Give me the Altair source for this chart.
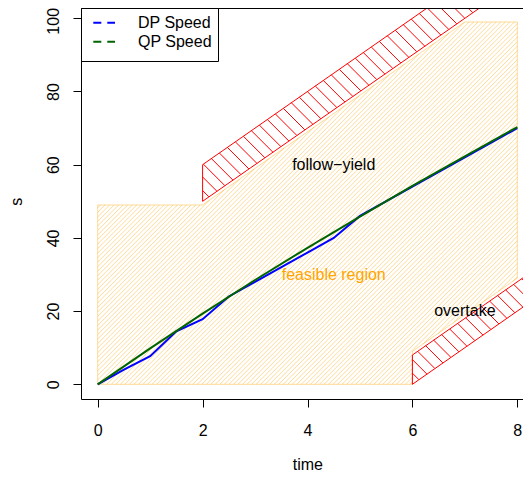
import altair as alt
import numpy as np
import pandas as pd

FONT = "Liberation Sans"

# ---------------- data ----------------
dp_time = [0, 0.5, 1, 1.5, 2, 2.5, 3, 4, 4.5, 5, 6, 7, 8]
dp_s = [0, 4, 7.7, 14.5, 17.8, 24, 28, 36, 40, 46, 54, 62, 70]

qp_time = [0, 1, 2, 3, 4, 5, 6, 7, 8]
qp_s = [0, 9.8, 19.3, 28.5, 37.3, 45.8, 54.2, 62.3, 70.3]

feas_t = [0, 0, 2, 7, 8, 8, 6, 6]
feas_s = [0, 49, 49, 99, 99, 29, 9, 0]

follow_t = [2, 2, 8, 8]
follow_s = [50, 60, 120, 110]

overtake_t = [6, 6, 10, 10]
overtake_s = [0, 8, 48, 40]

ann_t = [4.5, 4.5, 7.0]
ann_s = [60, 30, 20]
ann_text = ["follow\u2212yield", "feasible region", "overtake"]
ann_color = ["black", "orange", "black"]

legend_names = ["DP Speed", "QP Speed"]
legend_colors = ["blue", "darkgreen"]

x_ticks = [0, 2, 4, 6, 8]
y_ticks = [0, 20, 40, 60, 80, 100]

# ---------------- layout ----------------
W, H = 442, 391
KX = 52.45          # px per time unit
KY = 3.66           # px per s unit
XMIN = -16.7 / KX
XMAX = XMIN + W / KX
YMAX = 100 + 10.3 / KY
YMIN = YMAX - H / KY


def hatch(ts, ss, spacing, angle):
    """Shading lines (R polygon density style) clipped to a polygon."""
    a = np.deg2rad(angle)
    d = np.array([np.cos(a), np.sin(a)])
    n = np.array([-np.sin(a), np.cos(a)])
    P = np.column_stack([np.array(ts, float) * KX, np.array(ss, float) * KY])
    cv = P @ n
    rows = []
    m = len(P)
    for k in range(int(np.floor(cv.min() / spacing)), int(np.ceil(cv.max() / spacing)) + 1):
        c = k * spacing
        pts = []
        for i in range(m):
            p1, p2 = P[i], P[(i + 1) % m]
            f1, f2 = p1 @ n - c, p2 @ n - c
            if (f1 > 0) != (f2 > 0):
                r = f1 / (f1 - f2)
                pts.append(p1 + r * (p2 - p1))
        pts.sort(key=lambda q: q @ d)
        for j in range(0, len(pts) - 1, 2):
            rows.append(dict(t=pts[j][0] / KX, s=pts[j][1] / KY,
                             t2=pts[j + 1][0] / KX, s2=pts[j + 1][1] / KY))
    return pd.DataFrame(rows)


def outline(ts, ss):
    t = list(ts) + [ts[0]]
    s = list(ss) + [ss[0]]
    return pd.DataFrame({"t": t, "s": s, "o": range(len(t))})


xs = alt.Scale(domain=[XMIN, XMAX], nice=False, zero=False)
ys = alt.Scale(domain=[YMIN, YMAX], nice=False, zero=False)

x_axis = alt.Axis(values=x_ticks, title="time", grid=False, format="d",
                  tickSize=8, tickColor="black", domainColor="black",
                  labelFont=FONT, labelFontSize=16, labelColor="black",
                  labelPadding=15, labelFlush=False, labelOverlap=False,
                  titleFont=FONT, titleFontSize=16, titleFontWeight="normal",
                  titleColor="black", titleX=226.3, titleY=70.3,
                  titleAlign="center", titleBaseline="alphabetic")
y_axis = alt.Axis(values=y_ticks, title="s", grid=False, format="d",
                  tickSize=8, tickColor="black", domainColor="black",
                  labelFont=FONT, labelFontSize=16, labelColor="black",
                  labelAngle=270, labelAlign="center", labelBaseline="bottom",
                  labelPadding=12, labelFlush=False, labelOverlap=False,
                  labelOffset=alt.expr("datum.value == 100 ? 2.5 : 0"),
                  titleFont=FONT, titleFontSize=16, titleFontWeight="normal",
                  titleColor="black", titleAngle=270, titleX=-57, titleY=193.3,
                  titleAlign="center", titleBaseline="bottom")

X = alt.X("t:Q", scale=xs, axis=x_axis)
Y = alt.Y("s:Q", scale=ys, axis=y_axis)

layers = []

# feasible region
fh = hatch(feas_t, feas_s, 3.2, 45)
layers.append(alt.Chart(fh).mark_rule(stroke="#FFA500", strokeOpacity=0.4, strokeWidth=1)
              .encode(x=X, y=Y, x2="t2:Q", y2="s2:Q"))
layers.append(alt.Chart(outline(feas_t, feas_s)).mark_line(stroke="#FFA500", strokeOpacity=0.4, strokeWidth=1)
              .encode(x=X, y=Y, order="o:Q"))

# red bands
for bt, bs in [(follow_t, follow_s), (overtake_t, overtake_s)]:
    rh = hatch(bt, bs, 9.6, 135)
    layers.append(alt.Chart(rh).mark_rule(stroke="red", strokeWidth=1, clip=True)
                  .encode(x=X, y=Y, x2="t2:Q", y2="s2:Q"))
    layers.append(alt.Chart(outline(bt, bs)).mark_line(stroke="red", strokeWidth=1, clip=True)
                  .encode(x=X, y=Y, order="o:Q"))

# speed profiles
layers.append(alt.Chart(pd.DataFrame({"t": dp_time, "s": dp_s})).mark_line(stroke="blue", strokeWidth=2)
              .encode(x=X, y=Y))
layers.append(alt.Chart(pd.DataFrame({"t": qp_time, "s": qp_s})).mark_line(stroke="darkgreen", strokeWidth=2)
              .encode(x=X, y=Y))

# annotations
ann = pd.DataFrame({"t": ann_t, "s": ann_s, "label": ann_text, "col": ann_color})
layers.append(alt.Chart(ann).mark_text(font=FONT, fontSize=16, align="center", baseline="middle")
              .encode(x=X, y=Y, text="label:N", color=alt.Color("col:N", scale=None)))

# top frame line
layers.append(alt.Chart(pd.DataFrame({"a": [0]})).mark_rule(stroke="black", strokeWidth=1)
              .encode(x=alt.value(0), x2=alt.value(W), y=alt.value(0.5)))

# legend
layers.append(alt.Chart(pd.DataFrame({"a": [0]})).mark_rect(fill="white", stroke="black", strokeWidth=1)
              .encode(x=alt.value(0.5), x2=alt.value(137.5), y=alt.value(0.5), y2=alt.value(53.5)))
for i, (nm, col) in enumerate(zip(legend_names, legend_colors)):
    yy = 14.7 + 19 * i
    layers.append(alt.Chart(pd.DataFrame({"a": [0]})).mark_rule(stroke=col, strokeWidth=2, strokeDash=[8, 6])
                  .encode(x=alt.value(12.3), x2=alt.value(34), y=alt.value(yy)))
    layers.append(alt.Chart(pd.DataFrame({"a": [0]})).mark_text(font=FONT, fontSize=16, align="left",
                                                                baseline="middle", color="black")
                  .encode(x=alt.value(57), y=alt.value(yy + 0.4), text=alt.value(nm)))

chart = alt.layer(*layers).properties(
    width=W, height=H,
    padding={"left": 73, "top": 0, "right": 0, "bottom": 74},
    autosize=alt.AutoSizeParams(type="none"),
).configure_view(stroke=None)

chart.save("out.html", embed_options={"renderer": "svg", "actions": False})
